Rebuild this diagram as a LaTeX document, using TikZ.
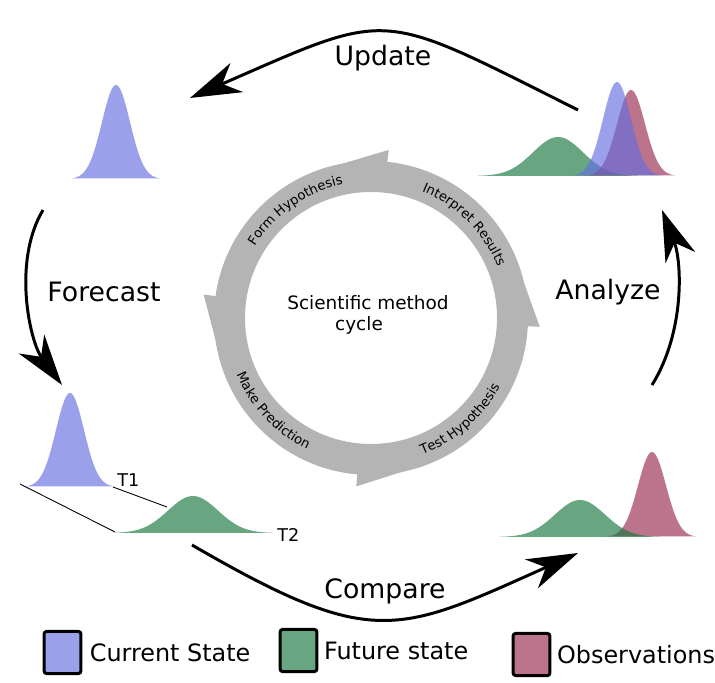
\documentclass[tikz,border=0pt]{standalone}
\usepackage{fontspec}
\setmainfont{DejaVu Sans}
\usepackage{tikz}
\usetikzlibrary{calc,arrows.meta,decorations.text,positioning}
\definecolor{curblue}{RGB}{101,109,225}
\definecolor{futgreen}{RGB}{23,118,63}
\definecolor{obsred}{RGB}{151,41,78}
\definecolor{curbluel}{RGB}{155,160,235}
\definecolor{futgreenl}{RGB}{104,166,130}
\definecolor{obsredl}{RGB}{187,116,140}
\definecolor{ringgray}{RGB}{180,180,180}
\tikzset{
  cur/.style={fill=curblue,fill opacity=0.65},
  fut/.style={fill=futgreen,fill opacity=0.65},
  obs/.style={fill=obsred,fill opacity=0.65},
  flow/.style={line width=1.7pt,-{Stealth[length=29pt,width=18pt,inset=9pt]}},
  biglabel/.style={font=\fontsize{15.2}{18}\selectfont},
  steplabel/.style={anchor=west,font=\fontsize{10}{12}\selectfont},
  keybox/.style={draw,line width=1.7pt,rounded corners=1.5pt,minimum width=21pt,minimum height=24pt},
  keytext/.style={font=\fontsize{13.6}{16}\selectfont},
  every node/.style={inner sep=0pt}
}
\newcommand{\ringfont}{\fontsize{7.5}{9}\selectfont}
% bell curve: style, centre x, base y, height, sigma
\newcommand{\bell}[5]{%
  \fill[#1] plot[domain=-3.2:3.2,samples=60,smooth] ({#2+#5*\x},{#3+#4*exp(-0.5*(\x)*(\x))}) -- cycle;}

\begin{document}
\begin{tikzpicture}[x=0.02cm,y=0.02cm]
  \useasboundingbox (0,0) rectangle (715,682);

  % ring of the scientific method
  \coordinate (ctr) at (371,364);
  \fill[ringgray,even odd rule] (ctr) circle[radius=157] (ctr) circle[radius=126];
  \foreach \a in {84,172,265,357}
    \fill[ringgray] ($(ctr)+(\a:150)$) -- ($(ctr)+(\a:169)$) -- ($(ctr)+(\a+22:156)$) -- ($(ctr)+(\a+22:150)$) -- cycle;
  \path[decorate,decoration={text along path,text align=center,text={|\ringfont|Form Hypothesis}}]
    ($(ctr)+(165:136.5)$) arc[start angle=165,end angle=85,radius=136.5];
  \path[decorate,decoration={text along path,text align=center,text={|\ringfont|Interpret Results}}]
    ($(ctr)+(85:136.5)$) arc[start angle=85,end angle=5,radius=136.5];
  \path[decorate,decoration={text along path,text align=center,text={|\ringfont|Test Hypothesis}}]
    ($(ctr)+(-88.5:146)$) arc[start angle=-88.5,end angle=-9,radius=146];
  \path[decorate,decoration={text along path,text align=center,text={|\ringfont|Make Prediction}}]
    ($(ctr)+(183:146)$) arc[start angle=183,end angle=264,radius=146];
  \node[font=\fontsize{10.5}{12}\selectfont] (sci) at (368,379) {Scientific method};
  \node[font=\fontsize{10.5}{12}\selectfont] (cyc) at (359,357) {cycle};

  % time lines T1 -> T2
  \coordinate (t1 l) at (20,198);
  \coordinate (t2 l) at (115,150);
  \coordinate (t1 r) at (113,195);
  \coordinate (t2 m) at (167,175);
  \draw[line width=0.5pt] (t1 l) -- (t2 l);
  \draw[line width=0.5pt] (t1 r) -- (t2 m);

  % distributions
  \bell{cur}{116}{503}{94}{14}
  \bell{cur}{70}{195}{94}{14}
  \bell{fut}{193}{149}{37}{25}
  \bell{fut}{558}{506}{39}{25}
  \bell{obs}{631}{506}{86}{14}
  \bell{cur}{617}{506}{94}{14}
  \bell{obs}{652}{145}{85}{14}
  \bell{fut}{580}{145}{37}{25}
  \node[steplabel] (t1) at (117,202) {T1};
  \node[steplabel] (t2) at (277,147) {T2};

  % outer cycle
  \coordinate (upd s) at (578,572);
  \coordinate (upd e) at (190,584);
  \coordinate (fc s) at (43,472);
  \coordinate (fc e) at (62,297);
  \coordinate (cmp s) at (192,137);
  \coordinate (cmp e) at (578,129);
  \coordinate (ana s) at (652,297);
  \coordinate (ana e) at (662,472);
  \draw[flow] (upd s) .. controls (376,673) and (394,673) .. (upd e);
  \draw[flow] (fc s) .. controls (12,420) and (30,340) .. (fc e);
  \draw[flow] (cmp s) .. controls (373,32) and (397,48) .. (cmp e);
  \draw[flow] (ana s) .. controls (685,350) and (682,420) .. (ana e);
  \node[biglabel] (update) at (383,624) {Update};
  \node[biglabel] (forecast) at (104,390) {Forecast};
  \node[biglabel] (analyze) at (608,390) {Analyze};
  \node[biglabel] (compare) at (385,91) {Compare};

  % legend
  \node[keybox,fill=curbluel] (kcur) at (62.5,29.5) {};
  \node[keytext,right=4pt of kcur] (lcur) {Current State};
  \node[keybox,fill=futgreenl] (kfut) at (298.5,31.5) {};
  \node[keytext,right=3pt of kfut] (lfut) {Future state};
  \node[keybox,fill=obsredl] (kobs) at (531.5,27.5) {};
  \node[keytext,right=3pt of kobs] (lobs) {Observations};
\end{tikzpicture}
\end{document}
